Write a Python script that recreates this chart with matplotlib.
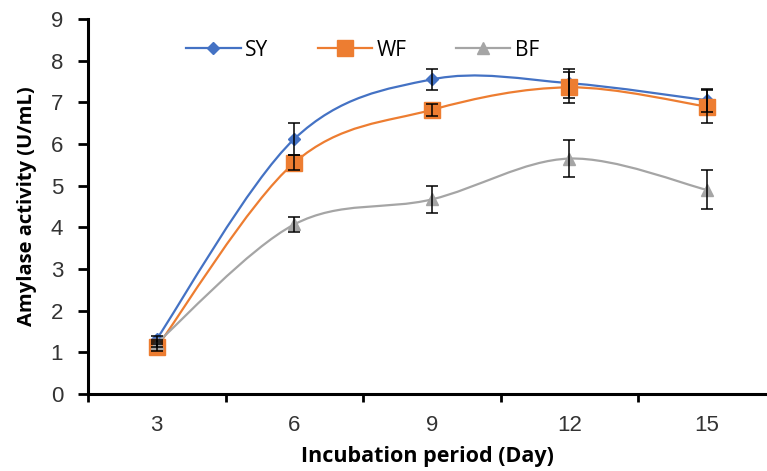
import numpy as np
import matplotlib
matplotlib.use("Agg")
import matplotlib.pyplot as plt
from matplotlib.path import Path
from matplotlib.patches import PathPatch

days = ["3", "6", "9", "12", "15"]
sy = [1.32, 6.12, 7.55, 7.46, 7.05]
sy_err = [0.08, 0.38, 0.26, 0.35, 0.28]
wf = [1.12, 5.55, 6.82, 7.36, 6.9]
wf_err = [0.08, 0.18, 0.15, 0.38, 0.4]
bf = [1.22, 4.07, 4.67, 5.65, 4.9]
bf_err = [0.08, 0.18, 0.33, 0.45, 0.47]

colors = {"SY": "#4472C4", "WF": "#ED7D31", "BF": "#A5A5A5"}
markers = {"SY": ("D", 6), "WF": ("s", 11), "BF": ("^", 9)}


def smooth_path(x, y):
    # Excel-like smoothed line: cubic bezier through points (catmull-rom control points)
    pts = np.column_stack((x, y)).astype(float)
    ext = np.vstack((pts[0], pts, pts[-1]))
    verts = [pts[0]]
    codes = [Path.MOVETO]
    for i in range(1, len(ext) - 2):
        p0, p1, p2, p3 = ext[i - 1], ext[i], ext[i + 1], ext[i + 2]
        c1 = p1 + (p2 - p0) / 6.0
        c2 = p2 - (p3 - p1) / 6.0
        verts += [c1, c2, p2]
        codes += [Path.CURVE4] * 3
    return Path(verts, codes)


fig = plt.figure(figsize=(7.67, 4.71), dpi=100)
ax = fig.add_axes([88 / 767, 1 - 394 / 471, 678 / 767, 375 / 471])

xpos = np.arange(1, len(days) + 1)
series = [("SY", sy, sy_err), ("WF", wf, wf_err), ("BF", bf, bf_err)]
for k, (name, vals, errs) in enumerate(series):
    c = colors[name]
    ax.add_patch(PathPatch(smooth_path(xpos, vals), fill=False, edgecolor=c,
                           lw=1.6, zorder=2 + k))
    m, ms = markers[name]
    ax.plot(xpos, vals, ls="none", marker=m, ms=ms, color=c, zorder=2.5 + k)
    ax.errorbar(xpos, vals, yerr=errs, fmt="none", ecolor="black", elinewidth=1.1,
                capsize=4.5, capthick=1.1, zorder=6)
    # legend handle
    ax.plot([], [], color=c, lw=1.6, marker=m, ms=ms, label=name)

ax.set_xlim(0.5, 0.5 + 678 / 137.5)
ax.set_ylim(0, 9)
ax.set_yticks(range(0, 10))
ax.set_xticks([0.5, 1.5, 2.5, 3.5, 4.5])
ax.set_xticklabels([])
ax.set_xticks(xpos, minor=True)
ax.set_xticklabels(days, minor=True)
ax.tick_params(axis="x", which="minor", length=0, pad=15)
ax.tick_params(axis="x", which="major", length=6, width=2, direction="out")
ax.tick_params(axis="y", length=7, width=2, direction="out", pad=11)
for lab in ax.get_xticklabels(minor=True) + ax.get_yticklabels():
    lab.set_fontfamily("Liberation Sans")
    lab.set_fontsize(16)
    lab.set_color("#333333")

for s in ["top", "right"]:
    ax.spines[s].set_visible(False)
for s in ["left", "bottom"]:
    ax.spines[s].set_linewidth(2.2)

ax.set_xlabel("Incubation period (Day)", fontfamily="Open Sans", fontweight="bold",
              fontsize=15.5, labelpad=7)
ax.set_ylabel("Amylase activity (U/mL)", fontfamily="Open Sans", fontweight="bold",
              fontsize=14.5, labelpad=10)

leg = ax.legend(loc="center", bbox_to_anchor=(0.405, 0.917), ncol=3, frameon=False,
                prop={"family": "Open Sans", "size": 15}, handlelength=2.6,
                columnspacing=2.4, handletextpad=0.2, borderpad=0)

fig.savefig("out.png", dpi=100)
